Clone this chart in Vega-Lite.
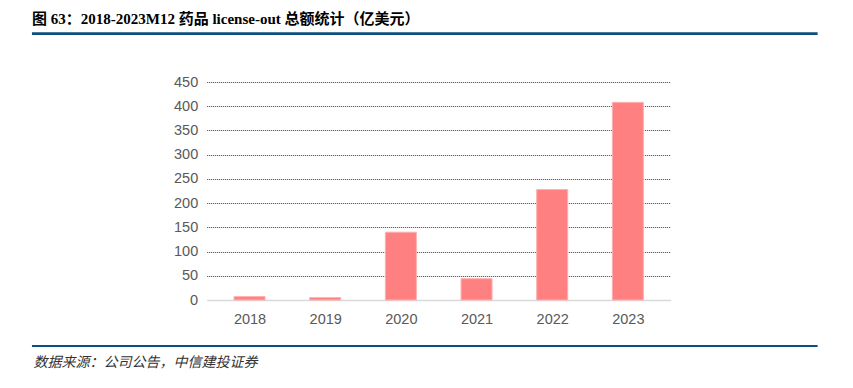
{
  "$schema": "https://vega.github.io/schema/vega-lite/v6.json",
  "width": 464,
  "height": 218,
  "autosize": "none",
  "padding": {"left": 206.7, "top": 82, "right": 182.3, "bottom": 88},
  "background": "white",
  "title": {
    "text": "图 63：2018-2023M12 药品 license-out 总额统计（亿美元）",
    "anchor": "start",
    "frame": "group",
    "dx": -174.7,
    "offset": -7,
    "baseline": "alphabetic",
    "font": "Liberation Serif, Noto Sans CJK SC",
    "fontSize": 15,
    "fontWeight": "bold",
    "color": "#000000"
  },
  "config": {
    "view": {"stroke": null},
    "axisX": {
      "format": "d",
      "tickCount": 6,
      "ticks": false,
      "grid": false,
      "domainColor": "#D9D9D9",
      "domainWidth": 1.5,
      "labelFont": "Liberation Sans",
      "labelFontSize": 14.5,
      "labelColor": "#595959",
      "labelPadding": 12,
      "labelFlush": false,
      "titleAnchor": "start",
      "titleAlign": "left",
      "titleX": -173.7,
      "titleY": 66,
      "titleBaseline": "alphabetic",
      "titleFont": "Noto Sans CJK SC",
      "titleFontStyle": "italic",
      "titleFontWeight": "normal",
      "titleFontSize": 14,
      "titleColor": "#333333"
    },
    "axisY": {
      "tickCount": 10,
      "domain": false,
      "ticks": false,
      "grid": true,
      "gridColor": {"condition": {"test": "datum.value === 0", "value": "transparent"}, "value": "#404040"},
      "gridDash": [1, 1],
      "gridWidth": 1,
      "labelFont": "Liberation Sans",
      "labelFontSize": 14.5,
      "labelColor": "#595959",
      "labelPadding": 9
    }
  },
  "layer": [
    {
      "data": {"values": [
        {"year": 2018, "value": 7},
        {"year": 2019, "value": 5},
        {"year": 2020, "value": 140},
        {"year": 2021, "value": 44},
        {"year": 2022, "value": 228},
        {"year": 2023, "value": 408}
      ]},
      "mark": {"type": "bar", "color": "#FF8080", "stroke": "#FFB0B0", "strokeWidth": 1, "size": 31},
      "encoding": {
        "x": {"field": "year", "type": "quantitative", "scale": {"domain": [2017.5, 2023.5]}, "title": "数据来源：公司公告，中信建投证券"},
        "y": {"field": "value", "type": "quantitative", "scale": {"domain": [0, 450]}, "title": null}
      }
    },
    {
      "data": {"values": [{"line": "header"}]},
      "mark": {"type": "rule", "color": "#0D4F80", "strokeWidth": 2.7, "clip": false},
      "encoding": {
        "x": {"datum": 2015.1245, "type": "quantitative", "scale": {"domain": [2017.5, 2023.5]}, "title": "数据来源：公司公告，中信建投证券"},
        "x2": {"datum": 2025.508},
        "y": {"datum": 550, "type": "quantitative", "scale": {"domain": [0, 450]}, "title": null}
      }
    },
    {
      "data": {"values": [{"line": "footer"}]},
      "mark": {"type": "rule", "color": "#0D4F80", "strokeWidth": 2, "clip": false},
      "encoding": {
        "x": {"datum": 2015.1245, "type": "quantitative", "scale": {"domain": [2017.5, 2023.5]}, "title": "数据来源：公司公告，中信建投证券"},
        "x2": {"datum": 2025.508},
        "y": {"datum": -95, "type": "quantitative", "scale": {"domain": [0, 450]}, "title": null}
      }
    }
  ]
}
